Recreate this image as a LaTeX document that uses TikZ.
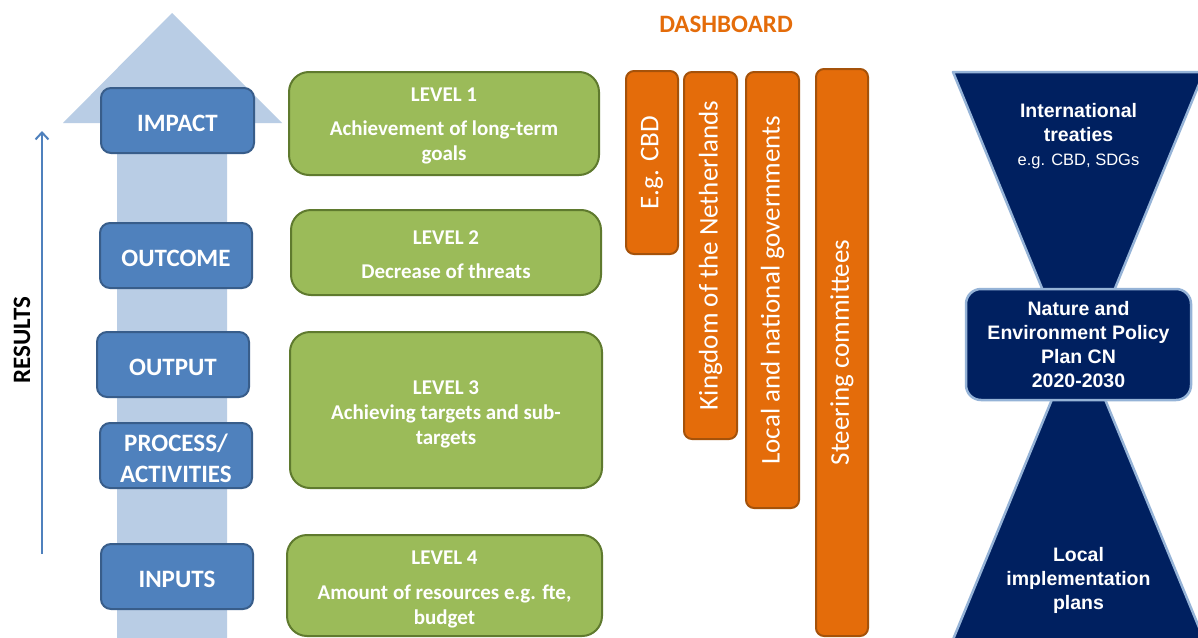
\documentclass[tikz,border=0pt]{standalone}
\usepackage{fontspec}
\setmainfont{Carlito}
\newfontfamily\arialf{Liberation Sans}
\usetikzlibrary{arrows.meta}
\definecolor{lightarrow}{HTML}{B9CDE5}
\definecolor{bluefill}{HTML}{4F81BD}
\definecolor{blueline}{HTML}{385D8A}
\definecolor{greenfill}{HTML}{9BBB59}
\definecolor{greenline}{HTML}{5F7A2E}
\definecolor{orangefill}{HTML}{E46C0A}
\definecolor{orangeline}{HTML}{A5520A}
\definecolor{navy}{HTML}{002060}
\definecolor{navyline}{HTML}{95B3D7}
\tikzset{
  bluebox/.style={draw=blueline, fill=bluefill, line width=2pt, rounded corners=10pt, inner sep=0pt},
  bluetext/.style={text=white, font=\fontsize{25}{31}\selectfont\bfseries, align=center, inner sep=0pt},
  greenbox/.style={draw=greenline, fill=greenfill, line width=2pt, rounded corners=20pt, inner sep=0pt},
  greentext/.style={text=white, font=\fontsize{21}{25}\selectfont\bfseries, align=center, inner sep=0pt},
  orangebar/.style={draw=orangeline, fill=orangefill, line width=2pt, rounded corners=8pt,
    text=white, font=\fontsize{27}{30}\selectfont, inner sep=0pt, rotate=90},
  navyshape/.style={fill=navy, draw=navyline, line width=2.5pt, line join=round},
  navytext/.style={text=white, font=\arialf\fontsize{19.5}{24}\selectfont\bfseries, align=center, inner sep=0pt},
}
\begin{document}
\begin{tikzpicture}[x=1pt,y=-1pt]
\useasboundingbox[fill=white] (0,0) rectangle (1198,637);
\clip (0,0) rectangle (1198,637);

% big light arrow
\fill[lightarrow] (117,640) -- (117,123) -- (63,123) -- (172,13) -- (282,123) -- (227,123) -- (227,640) -- cycle;

% results arrow
\coordinate (rbot) at (42,554);
\coordinate (rtop) at (42,131);
\draw[bluefill, line width=2pt, -{Straight Barb[length=7pt,width=13pt,line width=2pt]}] (rbot) -- (rtop);
\node[rotate=90, font=\fontsize{25}{30}\selectfont\bfseries, inner sep=0pt] (results) at (22,340) {RESULTS};

% blue boxes
\node[bluebox, minimum width=153pt, minimum height=65pt] (impact) at (177.5,120.5) {};
\node[bluebox, minimum width=152pt, minimum height=65pt] (outcome) at (176,255.5) {};
\node[bluebox, minimum width=152pt, minimum height=65pt] (output) at (173,364.5) {};
\node[bluebox, minimum width=152pt, minimum height=65pt] (process) at (176,455.5) {};
\node[bluebox, minimum width=152pt, minimum height=65pt] (inputs) at (177,576.5) {};
\node[bluetext] (impactt) at ([yshift=-2.5pt]impact.center) {IMPACT};
\node[bluetext] (outcomet) at ([yshift=-2.5pt]outcome.center) {OUTCOME};
\node[bluetext] (outputt) at ([yshift=-2.5pt]output.center) {OUTPUT};
\node[bluetext] (processt) at ([yshift=-2.5pt]process.center) {PROCESS/\\ACTIVITIES};
\node[bluetext] (inputst) at ([yshift=-2.5pt]inputs.center) {INPUTS};

% green boxes
\node[greenbox, minimum width=310pt, minimum height=103pt] (l1) at (444,123.5) {};
\node[greenbox, minimum width=310pt, minimum height=85pt] (l2) at (446,252.5) {};
\node[greenbox, minimum width=312pt, minimum height=156pt] (l3) at (446,410) {};
\node[greenbox, minimum width=315pt, minimum height=101pt] (l4) at (444.5,585.5) {};
\node[greentext] (l1t) at ([yshift=-2pt]l1.center) {LEVEL 1\\[9pt]Achievement of long-term\\goals};
\node[greentext] (l2t) at ([yshift=-2pt]l2.center) {LEVEL 2\\[9pt]Decrease of threats};
\node[greentext] (l3t) at ([yshift=-4pt]l3.center) {LEVEL 3\\Achieving targets and sub-\\targets};
\node[greentext] (l4t) at ([yshift=-4pt]l4.center) {LEVEL 4\\[10pt]Amount of resources e.g. fte,\\budget};

% dashboard
\node[text=orangefill, font=\fontsize{25}{30}\selectfont\bfseries, inner sep=0pt] (dash) at (726,24) {DASHBOARD};
\node[orangebar, minimum width=183pt, minimum height=52pt] (b1) at (652,162.5) {E.g. CBD};
\node[orangebar, minimum width=367pt, minimum height=53pt] (b2) at (710.5,255.5) {Kingdom of the Netherlands};
\node[orangebar, minimum width=436pt, minimum height=53pt] (b3) at (772.5,290) {Local and national governments};
\node[orangebar, minimum width=567pt, minimum height=52pt] (b4) at (842,352.5) {Steering committees};

% right side
\draw[navyshape] (953,72) -- (1204,72) -- (1078.5,377) -- cycle;
\draw[navyshape] (1078.5,335) -- (1205,642) -- (952,642) -- cycle;
\node[navyshape, rounded corners=15pt, minimum width=225pt, minimum height=111pt, inner sep=0pt] (plan) at (1078.5,344.5) {};
\node[navytext] (plantext) at (plan.center) {Nature and\\Environment Policy\\Plan CN\\2020-2030};
\node[navytext] (intl) at (1078.5,136) {International\\treaties\\{\fontsize{16.5}{24}\selectfont\mdseries e.g. CBD, SDGs}};
\node[navytext] (local) at (1078.5,580) {Local\\implementation\\plans};
\end{tikzpicture}
\end{document}
